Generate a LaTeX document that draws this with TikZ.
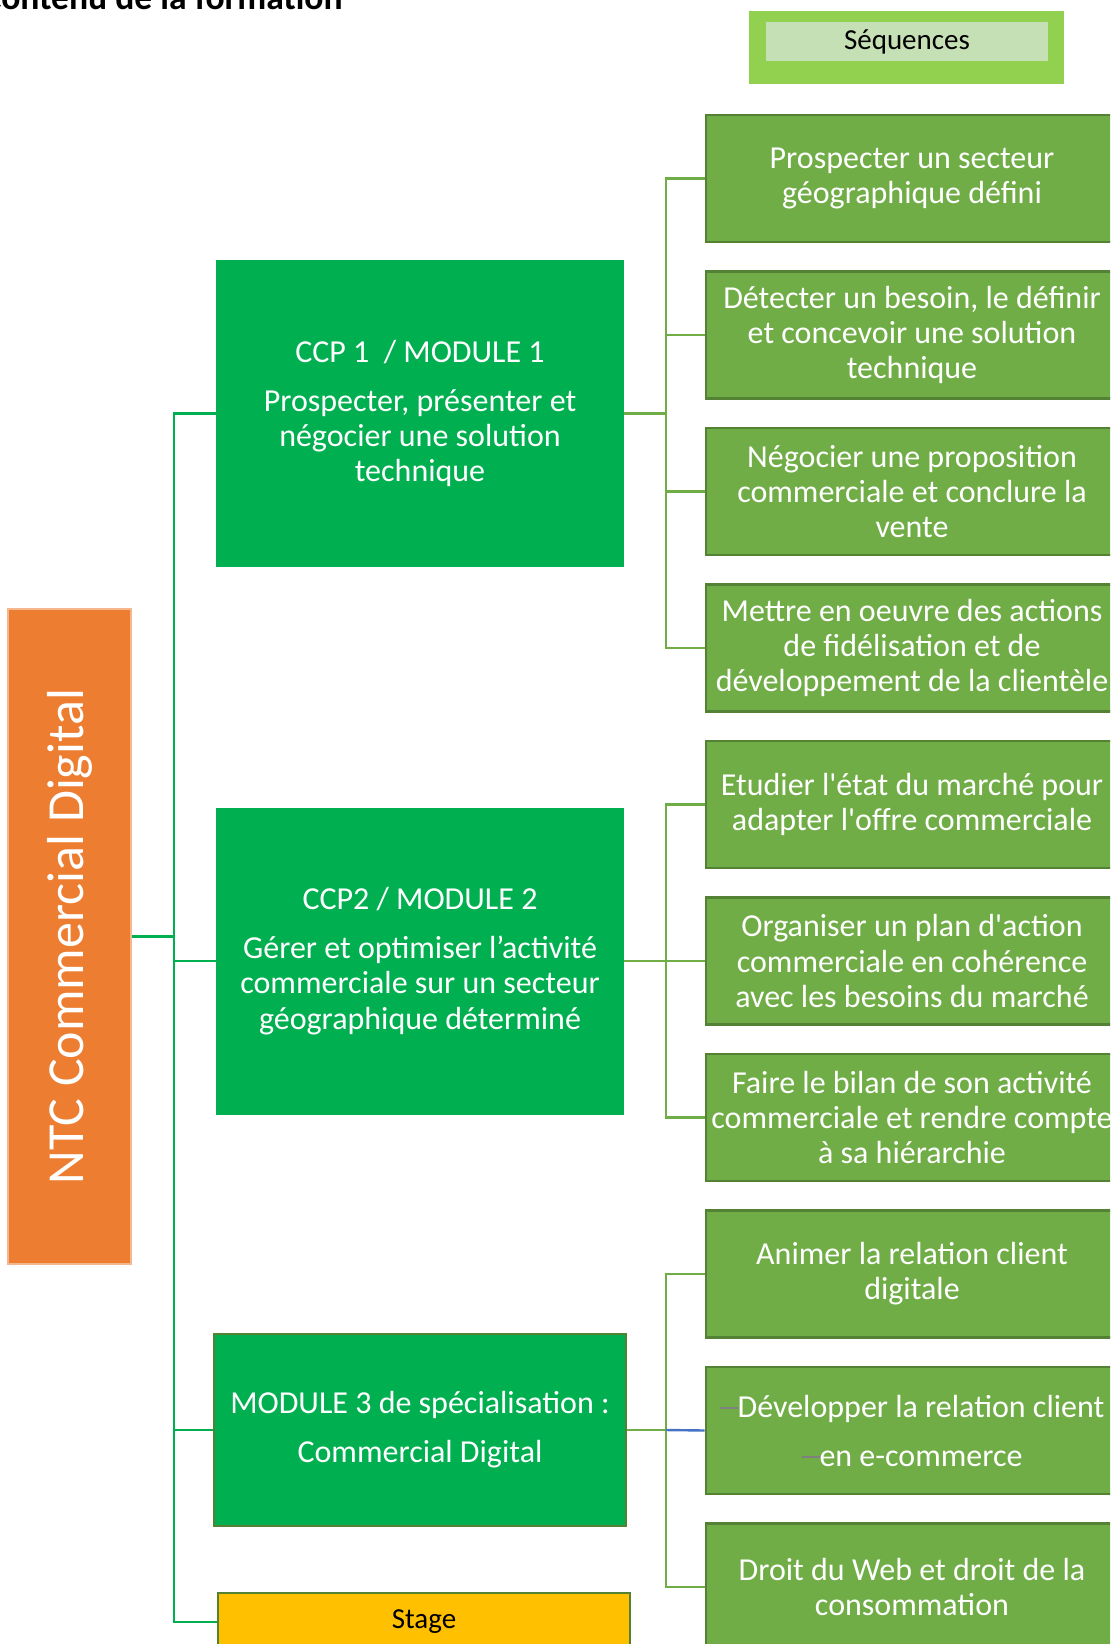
\documentclass[tikz,border=0pt]{standalone}
\usepackage{fontspec}
\setmainfont{Carlito}
\definecolor{ntcorange}{HTML}{ED7D31}
\definecolor{modgreen}{HTML}{00B050}
\definecolor{seqgreen}{HTML}{70AD47}
\definecolor{seqborder}{HTML}{548235}
\definecolor{lightgreen}{HTML}{92D050}
\definecolor{palegreen}{HTML}{C5E0B4}
\definecolor{stageyellow}{HTML}{FFC000}
\definecolor{linkblue}{HTML}{4472C4}
\definecolor{dashgray}{HTML}{808080}
\newcommand{\sq}{\textquotesingle}
\newcommand{\gdash}{{\color{dashgray}\rule[0.24em]{9pt}{1.1pt}}}
\tikzset{txt/.style={font=\fontsize{16}{17.6}\selectfont,align=center,inner sep=0pt},
seqbox/.style={txt,fill=seqgreen,draw=seqborder,line width=1.3pt,text=white,minimum width=206pt,minimum height=63.5pt},
modbox/.style={txt,fill=modgreen,text=white,minimum width=204pt,minimum height=153.5pt},
smalltxt/.style={font=\fontsize{14.5}{16}\selectfont},
rootln/.style={draw=modgreen,line width=1.1pt},
seqln/.style={draw=seqgreen,line width=1.2pt}}

\begin{document}
\begin{tikzpicture}[x=0.5pt,y=-0.5pt]
\useasboundingbox(0,0)rectangle(1110,1644);\clip(0,0)rectangle(1110,1644);
\node[font=\fontsize{17.8}{20}\selectfont\bfseries,anchor=base east,inner sep=0pt](title)at(343,9.5){Contenu de la formation};
\node[fill=lightgreen,minimum width=157.5pt,minimum height=36.5pt,inner sep=0pt](seqo)at(906.5,47.5){};
\node[txt,smalltxt,fill=palegreen,minimum width=141pt,minimum height=19.5pt](seq)at(907,41.5){Séquences};
\node[fill=ntcorange,draw=ntcorange!55!white,line width=.6pt,minimum width=61.5pt,minimum height=327.5pt,inner sep=0pt](ntc)at(69.5,936.5){};
\node[rotate=90,text=white,font=\fontsize{26}{30}\selectfont,inner sep=0pt](ntct)at(ntc){NTC Commercial Digital};
\node[modbox](ccp1)at(420,413.5){CCP 1~~/ MODULE 1\\[6.9pt]Prospecter, présenter et\\négocier une solution\\technique};
\node[modbox](ccp2)at(420,961){CCP2 / MODULE 2\\[6.9pt]Gérer et optimiser l’activité\\commerciale sur un secteur\\géographique déterminé};
\node[modbox,draw=seqborder,line width=1.3pt,minimum width=206pt,minimum height=96pt](mod3)at(420,1430){MODULE 3 de spécialisation :\\[6.9pt]Commercial Digital};
\node[txt,smalltxt,fill=stageyellow,draw=seqborder,line width=1.3pt,minimum width=206pt,minimum height=29pt](stg)at(424,1622){Stage};
\node[seqbox](s1)at(912,178.5){Prospecter un secteur\\géographique défini};
\node[seqbox](s2)at(912,335){Détecter un besoin, le définir\\et concevoir une solution\\technique};
\node[seqbox](s3)at(912,491.5){Négocier une proposition\\commerciale et conclure la\\vente};
\node[seqbox](s4)at(912,648){Mettre en oeuvre des actions\\de fidélisation et de\\développement de la clientèle};
\node[seqbox](s5)at(912,804.5){Etudier l\sq état du marché pour\\adapter l\sq offre commerciale};
\node[seqbox](s6)at(912,961){Organiser un plan d\sq action\\commerciale en cohérence\\avec les besoins du marché};
\node[seqbox](s7)at(912,1117.5){Faire le bilan de son activité\\commerciale et rendre compte\\à sa hiérarchie};
\node[seqbox](s8)at(912,1274){Animer la relation client\\digitale};
\node[seqbox](s9)at(912,1430.5){\gdash Développer la relation client\\[6.9pt]\gdash en e-commerce};
\node[seqbox](s10)at(912,1587){Droit du Web et droit de la\\consommation};
\coordinate(rt)at(174,936.5);\coordinate(b1)at(666,413.5);\coordinate(b2)at(666,961);\coordinate(b3)at(666,1430);
\draw[rootln](ntc.east)--(rt)|-(ccp1.west);\draw[rootln](rt)|-(ccp2.west);\draw[rootln](rt)|-(mod3.west);\draw[rootln](rt)|-(stg.west);
\draw[seqln](ccp1.east)--(b1)|-(s1.west);\draw[seqln](b1)|-(s2.west);\draw[seqln](b1)|-(s3.west);\draw[seqln](b1)|-(s4.west);
\draw[seqln](ccp2.east)--(b2)|-(s5.west);\draw[seqln](b2)--(s6.west);\draw[seqln](b2)|-(s7.west);
\draw[seqln](mod3.east)--(b3)|-(s8.west);\draw[seqln](b3)|-(s10.west);\draw[linkblue,line width=1.2pt](b3)--(s9.west);
\end{tikzpicture}
\end{document}
